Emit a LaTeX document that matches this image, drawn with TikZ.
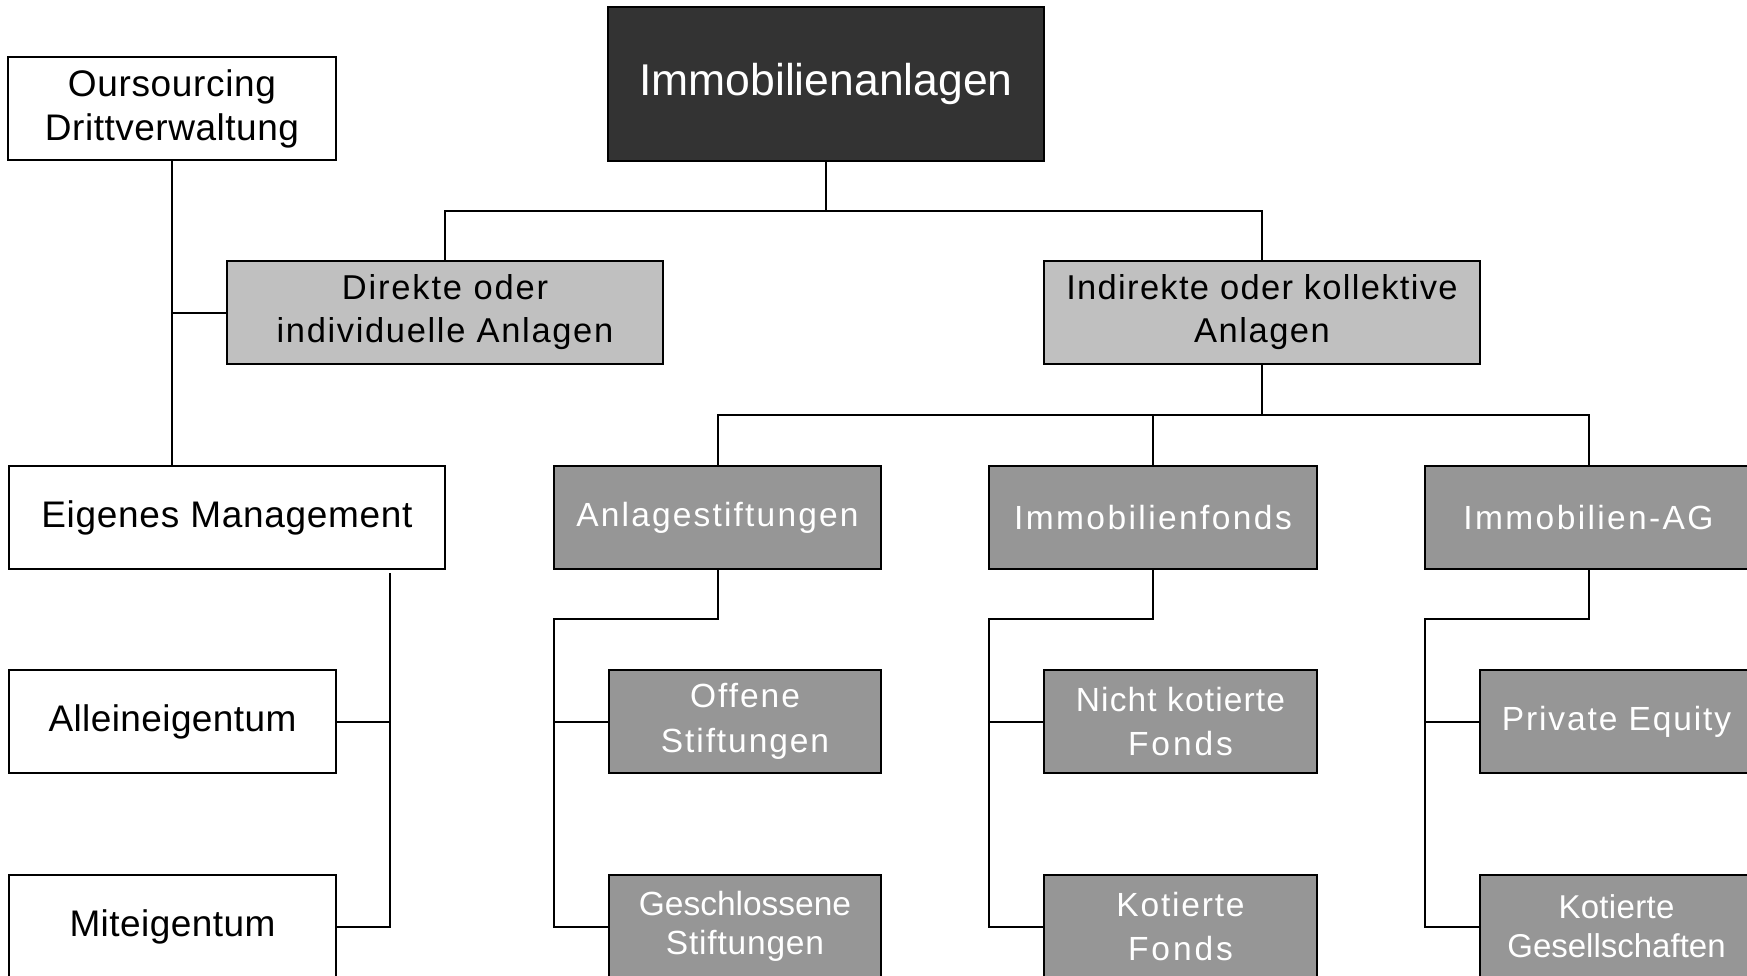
\documentclass[tikz,border=0pt]{standalone}
\usepackage{fontspec}
\setmainfont{Liberation Sans}
\definecolor{dgray}{HTML}{333333}
\definecolor{lgray}{HTML}{C0C0C0}
\definecolor{mgray}{HTML}{969696}
\newcommand{\spacedtext}[2]{{\addfontfeature{LetterSpace=#1}#2}}
\begin{document}
\begin{tikzpicture}[x=1pt,y=-1pt,
  box/.style={draw=black, line width=2.2pt, inner sep=0pt, outer sep=0pt, align=center, minimum height=103pt},
  wbox/.style={box, fill=white, font=\fontsize{37}{44}\selectfont},
  lbox/.style={box, fill=lgray, font=\fontsize{34.5}{43}\selectfont},
  mbox/.style={box, fill=mgray, text=white, font=\fontsize{33.5}{44.5}\selectfont},
  topbox/.style={box, fill=dgray, text=white, minimum height=154pt, font=\fontsize{44.5}{52}\selectfont},
  conn/.style={line width=2pt}
]
\useasboundingbox (0,0) rectangle (1747,975);
\clip (0,0) rectangle (1747,975);
\fill[white] (0,0) rectangle (1747,975);

% top level
\node[topbox, minimum width=436pt] (top) at (826,84) {Immobilienanlagen};

% second level
\node[lbox, minimum width=436pt] (direkte) at (445,312.5) {\spacedtext{5.3}{Direkte oder}\\\spacedtext{4.8}{individuelle Anlagen}};
\node[lbox, minimum width=436pt] (indirekte) at (1262,312.5) {\spacedtext{3.8}{Indirekte oder kollektive}\\\spacedtext{4.5}{Anlagen}};

% left (white) column
\node[wbox, minimum width=328pt] (ours) at (172,108.5) {\spacedtext{1.8}{Oursourcing}\\\spacedtext{1.4}{Drittverwaltung}};
\node[wbox, minimum width=436pt] (eigen) at (227,517.5) {\spacedtext{1.9}{Eigenes Management}};
\node[wbox, minimum width=327pt] (allein) at (172.5,721.5) {\spacedtext{1.1}{Alleineigentum}};
\node[wbox, minimum width=327pt] (mit) at (172.5,926.5) {\spacedtext{1.2}{Miteigentum}};

% third level
\node[mbox, minimum width=327pt] (anlage) at (717.5,517.5) {\spacedtext{6.5}{Anlagestiftungen}};
\node[mbox, minimum width=328pt] (fonds) at (1153,517.5) {\spacedtext{7.2}{Immobilienfonds}};
\node[mbox, minimum width=327pt] (ag) at (1588.5,517.5) {\spacedtext{7.1}{Immobilien-AG}};

% fourth level
\node[mbox, minimum width=272pt] (offene) at (745,721.5) {\spacedtext{6}{Offene}\\\spacedtext{5.7}{Stiftungen}};
\node[mbox, minimum width=272pt, font=\fontsize{33.5}{39}\selectfont] (geschl) at (745,926.5) {\spacedtext{0}{Geschlossene}\\\spacedtext{2.4}{Stiftungen}};
\node[mbox, minimum width=273pt] (nicht) at (1180.5,721.5) {\spacedtext{3.4}{Nicht kotierte}\\\spacedtext{8.7}{Fonds}};
\node[mbox, minimum width=273pt, font=\fontsize{33.5}{43.5}\selectfont] (kotf) at (1180.5,926.5) {\spacedtext{5.4}{Kotierte}\\\spacedtext{8.7}{Fonds}};
\node[mbox, minimum width=273pt] (pe) at (1616.5,721.5) {\spacedtext{5.6}{Private Equity}};
\node[mbox, minimum width=273pt, font=\fontsize{33}{39}\selectfont] (kotg) at (1616.5,926.5) {\spacedtext{1}{Kotierte}\\\spacedtext{0}{Gesellschaften}};

% connectors: top level
\draw[conn] (top.south) -- ++(0,50) -| (direkte.north);
\draw[conn] (top.south) -- ++(0,50) -| (indirekte.north);

% left column
\draw[conn] (ours.south) -- (ours.south |- eigen.north);
\draw[conn] (direkte.west) -- (direkte.west -| ours.south);
\coordinate (e1) at (390,573);
\draw[conn] (e1) |- (mit.east);
\draw[conn] (allein.east) -- (allein.east -| e1);

% indirekte
\draw[conn] (indirekte.south) -- ++(0,51) -| (anlage.north);
\draw[conn] (indirekte.south) -- ++(0,51) -| (fonds.north);
\draw[conn] (indirekte.south) -- ++(0,51) -| (ag.north);

% Anlagestiftungen
\draw[conn] (anlage.south) -- ++(0,50) coordinate (a1) -- (a1 -| anlage.west) |- (geschl.west);
\draw[conn] (offene.west) -- (offene.west -| anlage.west);
% Immobilienfonds
\draw[conn] (fonds.south) -- ++(0,50) coordinate (f1) -- (f1 -| fonds.west) |- (kotf.west);
\draw[conn] (nicht.west) -- (nicht.west -| fonds.west);
% Immobilien-AG
\draw[conn] (ag.south) -- ++(0,50) coordinate (g1) -- (g1 -| ag.west) |- (kotg.west);
\draw[conn] (pe.west) -- (pe.west -| ag.west);
\end{tikzpicture}
\end{document}
